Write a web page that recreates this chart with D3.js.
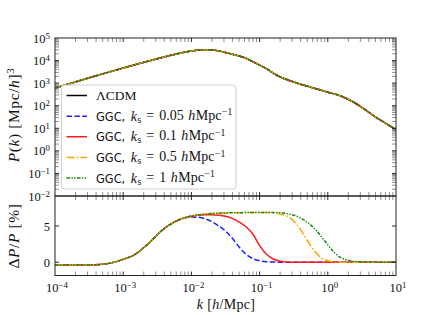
<!DOCTYPE html>
<html><head><meta charset="utf-8">
<script src="https://cdn.jsdelivr.net/npm/d3@7"></script>
<style>
body{margin:0;background:#fff;}
svg{display:block;}
.serif{font-family:"Liberation Serif","DejaVu Serif",serif;}
</style></head>
<body>
<svg id="c" width="440" height="315"></svg>
<script>
// ---------- DATA ----------
// top panel: matter power spectrum P(k) [ (Mpc/h)^3 ] at k [h/Mpc]
const kTop = [1e-4,1.78e-4,3.16e-4,5.62e-4,1e-3,1.78e-3,3.16e-3,5.62e-3,0.01,0.0141,0.0178,0.0251,0.0316,0.0398,0.0501,0.0631,0.0794,0.1,0.126,0.178,0.316,0.562,1,1.58,2.51,3.55,5.01,7.08,10];
const pLCDM = [610,1023,1718,2851,4677,7586,12023,18621,26303,29854,30200,26915,22909,19055,15849,12589,8913,6310,4365,2239,1122,661,398,263,132,66,31.6,16.6,8.7];
// bottom panel: Delta P / P [%] on a grid of log10 k
const log10kBottom = [-4,-3.5,-3.25,-3,-2.85,-2.7,-2.6,-2.5,-2.4,-2.3,-2.2,-2.1,-2,-1.9,-1.8,-1.7,-1.6,-1.5,-1.4,-1.3,-1.2,-1.1,-1,-0.9,-0.8,-0.7,-0.6,-0.5,-0.4,-0.3,-0.2,-0.1,0,0.1,0.2,0.3,0.45,0.6,0.8,1];
const dp005 = [-0.4,-0.37,-0.22,0.4,0.95,2.0,2.85,3.8,4.65,5.25,5.75,6.1,6.25,6.2,6.0,5.6,5.0,4.3,3.3,2.1,1.1,0.5,0.2,0.07,0.03,0,0,0,0,0,0,0,0,0,0,0,0,0,0,0];
const dp01  = [-0.4,-0.37,-0.22,0.4,0.95,2.0,2.85,3.8,4.65,5.3,5.8,6.15,6.35,6.48,6.55,6.55,6.5,6.35,6.05,5.55,4.9,3.9,2.3,1.1,0.45,0.15,0.04,0,0,0,0,0,0,0,0,0,0,0,0,0];
const dp05  = [-0.4,-0.37,-0.22,0.4,0.95,2.0,2.85,3.8,4.65,5.3,5.8,6.15,6.4,6.55,6.65,6.72,6.77,6.8,6.83,6.84,6.85,6.85,6.85,6.85,6.8,6.65,6.35,5.7,4.5,3.0,1.6,0.65,0.2,0.05,0,0,0,0,0,0];
const dp1   = [-0.4,-0.37,-0.22,0.4,0.95,2.0,2.85,3.8,4.65,5.3,5.8,6.15,6.4,6.55,6.65,6.72,6.77,6.8,6.83,6.84,6.85,6.85,6.86,6.86,6.86,6.85,6.7,6.5,6.1,5.5,4.7,3.6,2.4,1.3,0.6,0.25,0.07,0.02,0,0];
const seriesNames = ["ΛCDM","0.05","0.1","0.5","1"];
const xTickExps = [-4,-3,-2,-1,0,1];
const yTopTickExps = [-2,-1,0,1,2,3,4,5];
const yBotTicks = [0,5];

// ---------- LAYOUT ----------
const L=55, R=396, T1=38, B1=196, T2=196, B2=275.5;
const svg = d3.select("#c");
const x = d3.scaleLog().domain([1e-4,10]).range([L,R]);
const yT = d3.scaleLog().domain([1e-2,1e5]).range([B1,T1]);
const yB = d3.scaleLinear().domain([-1.83,9.14]).range([B2,T2]);

const styles = [
  {color:"#000000", dash:null},
  {color:"#1f1fff", dash:"5.5,2.4"},
  {color:"#ff1a1a", dash:null},
  {color:"#ffa500", dash:"8,2.2,1.5,2.2"},
  {color:"#118811", dash:"3.5,1.4,1.4,1.4,1.4,1.4"}
];

const defs = svg.append("defs");
defs.append("clipPath").attr("id","cp1").append("rect").attr("x",L).attr("y",T1).attr("width",R-L).attr("height",B1-T1);
defs.append("clipPath").attr("id","cp2").append("rect").attr("x",L).attr("y",T2).attr("width",R-L).attr("height",B2-T2);

// ---------- CURVES ----------
const topData = kTop.map((k,i)=>({k, p:pLCDM[i]}));
const lineTop = d3.line().x(d=>x(d.k)).y(d=>yT(d.p)).curve(d3.curveMonotoneX);
const gTop = svg.append("g").attr("clip-path","url(#cp1)");
styles.forEach(s=>{
  gTop.append("path").datum(topData).attr("d",lineTop)
    .attr("fill","none").attr("stroke",s.color).attr("stroke-width",1.5)
    .attr("stroke-dasharray",s.dash);
});

const botSeries = [dp005,dp01,dp05,dp1];
const lineBot = d3.line().x(d=>x(d.k)).y(d=>yB(d.v)).curve(d3.curveMonotoneX);
const gBot = svg.append("g").attr("clip-path","url(#cp2)");
botSeries.forEach((arr,j)=>{
  const s = styles[j+1];
  const data = log10kBottom.map((e,i)=>({k:Math.pow(10,e), v:arr[i]}));
  gBot.append("path").datum(data).attr("d",lineBot)
    .attr("fill","none").attr("stroke",s.color).attr("stroke-width",1.5)
    .attr("stroke-dasharray",s.dash);
});

// ---------- AXES / TICKS ----------
const axG = svg.append("g");
const TL=4;
function minorList(lo,hi){const out=[];for(let e=lo;e<hi;e++)for(let m=2;m<=9;m++)out.push(m*Math.pow(10,e));return out;}
const xMinor = minorList(-4,1);
const yMinor = minorList(-2,5);
function vticks(vals, scale, y0, dir, major){
  axG.selectAll(null).data(vals).enter().append("line")
    .attr("x1",d=>scale(d)).attr("x2",d=>scale(d))
    .attr("y1",y0).attr("y2",y0+dir*TL)
    .attr("stroke",major?"#111":"#444").attr("stroke-width",major?0.9:0.6);
}
function hticks(vals, scale, x0, dir, major){
  axG.selectAll(null).data(vals).enter().append("line")
    .attr("y1",d=>scale(d)).attr("y2",d=>scale(d))
    .attr("x1",x0).attr("x2",x0+dir*TL)
    .attr("stroke",major?"#111":"#444").attr("stroke-width",major?0.9:0.6);
}
const xMajor = xTickExps.map(e=>Math.pow(10,e));
[[T1,1],[B1,-1],[T2,1],[B2,-1]].forEach(([y0,dir])=>{
  vticks(xMajor.slice(1,-1),x,y0,dir,true);
  vticks(xMinor,x,y0,dir,false);
});
const yMajorT = yTopTickExps.map(e=>Math.pow(10,e));
hticks(yMajorT.slice(1,-1),yT,L,1,true); hticks(yMinor,yT,L,1,false);
hticks(yMajorT.slice(1,-1),yT,R,-1,true); hticks(yMinor,yT,R,-1,false);
hticks(yBotTicks,yB,L,1,true); hticks(yBotTicks,yB,R,-1,true);

// frames
svg.append("rect").attr("x",L).attr("y",T1).attr("width",R-L).attr("height",B1-T1)
  .attr("fill","none").attr("stroke","#222").attr("stroke-width",1);
svg.append("rect").attr("x",L).attr("y",T2).attr("width",R-L).attr("height",B2-T2)
  .attr("fill","none").attr("stroke","#222").attr("stroke-width",1);

// tick labels
const FS=12.5, SUP=8.8;
function powLabel(g, e){
  g.append("tspan").text("10");
  g.append("tspan").attr("dy","-0.45em").attr("font-size",SUP).text(e<0?"\u2212"+(-e):String(e));
}
xTickExps.forEach(e=>{
  const t = svg.append("text").attr("class","serif").attr("font-size",FS)
    .attr("x",x(Math.pow(10,e))+2).attr("y",292).attr("text-anchor","middle").attr("fill","#111");
  powLabel(t,e);
});
yTopTickExps.forEach(e=>{
  const t = svg.append("text").attr("class","serif").attr("font-size",FS)
    .attr("x",50).attr("y",yT(Math.pow(10,e))+4.5).attr("text-anchor","end").attr("fill","#111");
  powLabel(t,e);
});
yBotTicks.forEach(v=>{
  svg.append("text").attr("class","serif").attr("font-size",FS)
    .attr("x",50).attr("y",yB(v)+4.5).attr("text-anchor","end").attr("fill","#111").text(v);
});

// axis labels
const xl = svg.append("text").attr("class","serif").attr("font-size",14)
  .attr("x",226).attr("y",309).attr("text-anchor","middle").attr("fill","#111").attr("letter-spacing",0.3);
xl.append("tspan").attr("font-style","italic").text("k");
xl.append("tspan").text(" [");
xl.append("tspan").attr("font-style","italic").text("h");
xl.append("tspan").text("/Mpc]");

const yl1 = svg.append("text").attr("class","serif").attr("font-size",15.5).attr("letter-spacing",0.6)
  .attr("transform","translate(19,115) rotate(-90)").attr("text-anchor","middle").attr("fill","#111");
yl1.append("tspan").attr("font-style","italic").text("P");
yl1.append("tspan").text("(");
yl1.append("tspan").attr("font-style","italic").text("k");
yl1.append("tspan").text(") [Mpc/");
yl1.append("tspan").attr("font-style","italic").text("h");
yl1.append("tspan").text("]");
yl1.append("tspan").attr("dy","-0.45em").attr("font-size",11).text("3");

const yl2 = svg.append("text").attr("class","serif").attr("font-size",15.5).attr("letter-spacing",0.6)
  .attr("transform","translate(19,236) rotate(-90)").attr("text-anchor","middle").attr("fill","#111");
yl2.append("tspan").text("Δ");
yl2.append("tspan").attr("font-style","italic").text("P");
yl2.append("tspan").text("/");
yl2.append("tspan").attr("font-style","italic").text("P");
yl2.append("tspan").text(" [%]");

// ---------- LEGEND ----------
const lg = svg.append("g");
lg.append("rect").attr("x",61.5).attr("y",85).attr("width",174.5).attr("height",104).attr("rx",3)
  .attr("fill","#fff").attr("fill-opacity",0.85).attr("stroke","#d0d0d0").attr("stroke-width",1);
const rowY = d3.scaleLinear().domain([0,4]).range([95.5,178]);
seriesNames.forEach((nm,i)=>{
  const s = styles[i], yy = rowY(i);
  lg.append("line").attr("x1",66.5).attr("x2",87).attr("y1",yy).attr("y2",yy)
    .attr("stroke",s.color).attr("stroke-width",1.5).attr("stroke-dasharray",s.dash);
  const t = lg.append("text").attr("x",96).attr("y",yy+4.5).attr("fill","#111");
  if(i===0){
    t.attr("class","serif").attr("font-size",13.5).text(nm);
  } else {
    t.append("tspan").attr("font-family","DejaVu Sans").attr("font-size",11.4).text("GGC,");
    const m = (txt,opt={})=>{const sp=t.append("tspan").attr("font-family","Liberation Serif").attr("font-size",opt.fs||14).text(txt); if(opt.it) sp.attr("font-style","italic"); if(opt.dy) sp.attr("dy",opt.dy); if(opt.dx) sp.attr("dx",opt.dx); return sp;};
    m("k",{it:true,dx:5.5});
    m("s",{fs:9.8,dy:"0.22em",dx:0.5});
    m("=",{dy:"-0.22em",dx:5});
    m(nm,{dx:5});
    m("h",{it:true,dx:4.5});
    m("Mpc",{dx:0.5});
    m("\u22121",{fs:9.8,dy:"-0.45em",dx:0.5});
  }
});
</script>
</body></html>
